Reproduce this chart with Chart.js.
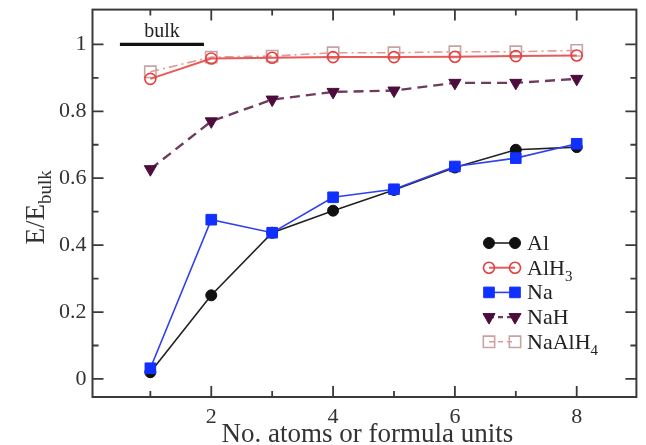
<!DOCTYPE html>
<html>
<head>
<meta charset="utf-8">
<script src="https://cdn.jsdelivr.net/npm/chart.js@4.4.1/dist/chart.umd.min.js"></script>
<style>
  html, body { margin: 0; padding: 0; background: #ffffff; }
  #wrap { width: 646px; height: 445px; }
</style>
</head>
<body>
<div id="wrap"><canvas id="c" width="646" height="445"></canvas></div>
<script>
// Relative energy per cluster size
const atomCounts   = [1, 2, 3, 4, 5, 6, 7, 8];
const alValues     = [0.020, 0.250, 0.437, 0.503, 0.565, 0.632, 0.685, 0.693];
const alh3Values   = [0.897, 0.958, 0.960, 0.962, 0.962, 0.963, 0.965, 0.967];
const naValues     = [0.032, 0.476, 0.437, 0.543, 0.567, 0.635, 0.660, 0.703];
const nahValues    = [0.627, 0.770, 0.835, 0.858, 0.862, 0.885, 0.885, 0.897];
const naalh4Values = [0.918, 0.962, 0.965, 0.975, 0.975, 0.978, 0.978, 0.982];
const seriesNames  = ['Al', 'AlH3', 'Na', 'NaH', 'NaAlH4'];

// Bulk reference level
const bulkSpan  = [0.5, 1.88];
const bulkLevel = 1;
const bulkLabel = 'bulk';

// Axis ticks
const xMajorTicks = [2, 4, 6, 8];
const xMinorTicks = [1, 3, 5, 7];
const yMajorTicks = [0, 0.2, 0.4, 0.6, 0.8, 1];
const yMinorTicks = [0.1, 0.3, 0.5, 0.7, 0.9];
const xTitle = 'No. atoms or formula units';
const yTitleMain = 'E/E';
const yTitleSub = 'bulk';

const SERIF = '"Liberation Serif", "DejaVu Serif", serif';
const toPoints = vals => atomCounts.map((x, i) => ({ x: x, y: vals[i] }));

const seriesStyles = [
  { color: '#111111', line: '#222222', style: 'circle',   radius: 5.5, fill: true,  width: 1.6, dash: [],           rot: 0,   order: 2 },
  { color: '#e5403f', line: '#e85a58', style: 'circle',   radius: 5.5, fill: false, width: 2.0, dash: [],           rot: 0,   order: 3 },
  { color: '#1030ff', line: '#3040f0', style: 'rect',     radius: 7.5, fill: true,  width: 1.6, dash: [],           rot: 0,   order: 1 },
  { color: '#4e0c3c', line: '#6e3a5e', style: 'triangle', radius: 7,   fill: true,  width: 2.4, dash: [10, 6],      rot: 180, order: 5 },
  { color: '#c9a3a3', line: '#e09a98', style: 'rect',     radius: 8,   fill: false, width: 1.6, dash: [9, 4, 2, 4], rot: 0,   order: 4 }
];
const seriesValues = [alValues, alh3Values, naValues, nahValues, naalh4Values];

const datasets = seriesValues.map((vals, i) => {
  const s = seriesStyles[i];
  return {
    label: seriesNames[i],
    data: toPoints(vals),
    borderColor: s.line,
    borderWidth: s.width,
    borderDash: s.dash,
    pointStyle: s.style,
    pointRotation: s.rot,
    pointRadius: s.radius,
    pointBorderColor: s.color,
    pointBackgroundColor: s.fill ? s.color : 'rgba(0,0,0,0)',
    pointBorderWidth: s.fill ? 1 : 1.6,
    order: s.order,
    tension: 0,
    showLine: true,
    fill: false
  };
});

datasets.push({
  label: bulkLabel,
  data: bulkSpan.map(x => ({ x: x, y: bulkLevel })),
  borderColor: '#111111',
  borderWidth: 3.2,
  pointRadius: 0,
  showLine: true,
  order: 0
});

// Draw a chemical formula with digits as subscripts
function drawFormula(ctx, text, x, y, size) {
  const parts = text.match(/[0-9]+|[^0-9]+/g) || [];
  let cx = x;
  parts.forEach(p => {
    const isSub = /^[0-9]+$/.test(p);
    const fs = isSub ? size * 0.68 : size;
    ctx.font = fs + 'px ' + SERIF;
    ctx.fillText(p, cx, isSub ? y + size * 0.3 : y);
    cx += ctx.measureText(p).width;
  });
}

function drawMarker(ctx, s, x, y) {
  ctx.save();
  ctx.strokeStyle = s.color;
  ctx.fillStyle = s.fill ? s.color : 'rgba(0,0,0,0)';
  ctx.lineWidth = s.fill ? 1 : 1.6;
  ctx.setLineDash([]);
  Chart.helpers.drawPoint(ctx, { pointStyle: s.style, rotation: s.rot, radius: s.radius, borderWidth: ctx.lineWidth }, x, y);
  ctx.restore();
}

const framePlugin = {
  id: 'frameTicks',
  afterDraw(chart) {
    const ctx = chart.ctx;
    const a = chart.chartArea;
    const xs = chart.scales.x, ys = chart.scales.y;
    ctx.save();
    ctx.strokeStyle = '#3a3a3a';
    ctx.lineWidth = 2;
    ctx.setLineDash([]);
    ctx.strokeRect(a.left, a.top, a.right - a.left, a.bottom - a.top);
    ctx.lineWidth = 1.8;
    ctx.beginPath();
    const xt = (v, len) => {
      const px = xs.getPixelForValue(v);
      ctx.moveTo(px, a.bottom); ctx.lineTo(px, a.bottom - len);
      ctx.moveTo(px, a.top);    ctx.lineTo(px, a.top + len);
    };
    const yt = (v, len) => {
      const py = ys.getPixelForValue(v);
      ctx.moveTo(a.left, py);  ctx.lineTo(a.left + len, py);
      ctx.moveTo(a.right, py); ctx.lineTo(a.right - len, py);
    };
    xMajorTicks.forEach(v => xt(v, 11));
    xMinorTicks.forEach(v => xt(v, 6));
    yMajorTicks.forEach(v => yt(v, 11));
    yMinorTicks.forEach(v => yt(v, 6));
    ctx.stroke();

    // bulk label
    ctx.fillStyle = '#222222';
    ctx.font = '20px ' + SERIF;
    ctx.textAlign = 'center';
    ctx.textBaseline = 'alphabetic';
    const bx = (xs.getPixelForValue(bulkSpan[0]) + xs.getPixelForValue(bulkSpan[1])) / 2;
    ctx.fillText(bulkLabel, bx, ys.getPixelForValue(bulkLevel) - 7);

    // x axis title
    ctx.fillStyle = '#333333';
    ctx.font = '27px ' + SERIF;
    ctx.textAlign = 'center';
    ctx.fillText(xTitle, (a.left + a.right) / 2 + 3, 442);

    // y axis title with subscript
    ctx.save();
    ctx.translate(44, (a.top + a.bottom) / 2 + 4);
    ctx.rotate(-Math.PI / 2);
    ctx.font = '27px ' + SERIF;
    const wMain = ctx.measureText(yTitleMain).width;
    ctx.font = '19px ' + SERIF;
    const wSub = ctx.measureText(yTitleSub).width;
    const start = -(wMain + wSub) / 2;
    ctx.textAlign = 'left';
    ctx.font = '27px ' + SERIF;
    ctx.fillText(yTitleMain, start, 0);
    ctx.font = '19px ' + SERIF;
    ctx.fillText(yTitleSub, start + wMain, 7);
    ctx.restore();

    // legend
    const lx0 = 489, lx1 = 515, tx = 527;
    seriesNames.forEach((name, i) => {
      const s = seriesStyles[i];
      const ly = 243 + i * 24.7;
      ctx.save();
      ctx.strokeStyle = s.line;
      ctx.lineWidth = s.width;
      ctx.setLineDash(s.dash.length ? [5, 4] : []);
      ctx.beginPath();
      ctx.moveTo(lx0, ly); ctx.lineTo(lx1, ly);
      ctx.stroke();
      ctx.restore();
      drawMarker(ctx, s, lx0, ly);
      drawMarker(ctx, s, lx1, ly);
      ctx.fillStyle = '#222222';
      ctx.textAlign = 'left';
      ctx.textBaseline = 'alphabetic';
      drawFormula(ctx, name, tx, ly + 7, 22);
    });
    ctx.restore();
  }
};

new Chart(document.getElementById('c'), {
  type: 'scatter',
  data: { datasets: datasets },
  plugins: [framePlugin],
  options: {
    responsive: false,
    animation: false,
    devicePixelRatio: 1,
    layout: { padding: { top: 4, right: 4, left: 0, bottom: 0 } },
    plugins: { legend: { display: false }, tooltip: { enabled: false } },
    scales: {
      x: {
        type: 'linear',
        min: 0.05,
        max: 8.98,
        grid: { display: false, drawTicks: false },
        border: { display: false },
        afterBuildTicks: s => { s.ticks = xMajorTicks.map(v => ({ value: v })); },
        afterFit: s => { s.height = 48; s.paddingLeft = 0; s.paddingRight = 0; },
        ticks: { padding: 7, color: '#333333', font: { family: SERIF, size: 22 }, callback: v => String(v) }
      },
      y: {
        type: 'linear',
        min: -0.054,
        max: 1.104,
        grid: { display: false, drawTicks: false },
        border: { display: false },
        afterBuildTicks: s => { s.ticks = yMajorTicks.map(v => ({ value: v })); },
        afterFit: s => { s.width = 92.5; s.paddingTop = 0; s.paddingBottom = 0; },
        ticks: { padding: 6, color: '#333333', font: { family: SERIF, size: 22 }, callback: v => String(Math.round(v * 10) / 10) }
      }
    }
  }
});
</script>
</body>
</html>
